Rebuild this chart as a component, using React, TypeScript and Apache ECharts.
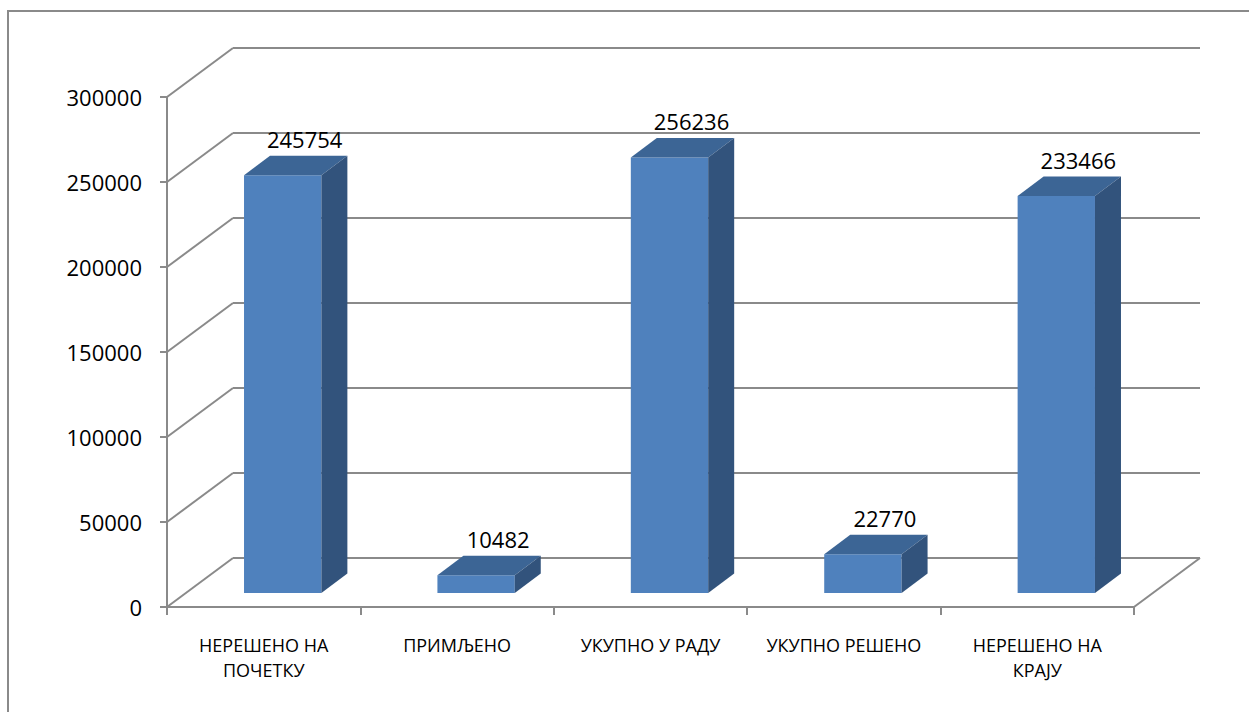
import React, { useEffect, useRef } from "react";
import * as echarts from "echarts";

const categories: string[] = [
  "НЕРЕШЕНО НА\nПОЧЕТКУ",
  "ПРИМЉЕНО",
  "УКУПНО У РАДУ",
  "УКУПНО РЕШЕНО",
  "НЕРЕШЕНО НА\nКРАЈУ",
];
const values: number[] = [245754, 10482, 256236, 22770, 233466];
const yTicks: number[] = [0, 50000, 100000, 150000, 200000, 250000, 300000];

const FONT = "'Open Sans', 'Noto Sans', sans-serif";
const LINE = "#8a8a8a";
const WALL_DX = 66;
const WALL_DY = -49;

export default function App() {
  const ref = useRef<HTMLDivElement>(null);
  useEffect(() => {
    document.body.style.margin = "0";
    if (!ref.current) return;
    const chart = echarts.init(ref.current, undefined, { renderer: "svg" });
    const option: any = {
      animation: false,
      backgroundColor: "#ffffff",
      grid: { left: 167, right: 115, top: 97, bottom: 105 },
      graphic: [
        {
          type: "rect",
          shape: { x: 8, y: 11, width: 1400, height: 900 },
          style: { fill: "none", stroke: LINE, lineWidth: 2 },
          silent: true,
        },
      ],
      xAxis: {
        type: "category",
        data: categories,
        boundaryGap: true,
        axisLine: { show: true, lineStyle: { color: LINE, width: 2 } },
        axisTick: { show: true, length: 8, alignWithLabel: false, lineStyle: { color: LINE, width: 2 } },
        axisLabel: {
          interval: 0,
          margin: 25,
          color: "#000",
          fontFamily: FONT,
          fontSize: 18,
          lineHeight: 25,
          verticalAlign: "top",
        },
        splitLine: { show: false },
      },
      yAxis: {
        type: "value",
        min: 0,
        max: 300000,
        interval: 50000,
        axisLine: { show: true, lineStyle: { color: LINE, width: 2 } },
        axisTick: { show: true, length: 7, lineStyle: { color: LINE, width: 2 } },
        axisLabel: {
          margin: 25,
          color: "#000",
          fontFamily: FONT,
          fontSize: 22,
          formatter: (v: number) => String(v),
        },
        splitLine: { show: false },
      },
      series: [
        {
          type: "custom",
          z: 1,
          silent: true,
          clip: false,
          data: yTicks.map((v) => [0, v]),
          encode: { x: 0, y: 1 },
          renderItem: (params: any, api: any) => {
            const v = api.value(1);
            const p = api.coord([0, v]);
            const band = api.size([1, 0])[0];
            const left = p[0] - band / 2;
            const right = left + band * categories.length;
            const y = p[1];
            const style = { stroke: LINE, lineWidth: 2, fill: "none" };
            const children: any[] = [
              { type: "line", shape: { x1: left, y1: y, x2: left + WALL_DX, y2: y + WALL_DY }, style },
              {
                type: "line",
                shape: { x1: left + WALL_DX, y1: y + WALL_DY, x2: right + WALL_DX, y2: y + WALL_DY },
                style,
              },
            ];
            if (v === 0) {
              children.push({
                type: "line",
                shape: { x1: right, y1: y, x2: right + WALL_DX, y2: y + WALL_DY },
                style,
              });
            }
            return { type: "group", children };
          },
        },
        {
          type: "custom",
          z: 5,
          clip: false,
          data: values.map((v, i) => [i, v]),
          encode: { x: 0, y: 1 },
          renderItem: (params: any, api: any) => {
            const idx = api.value(0);
            const v = api.value(1);
            const base = api.coord([idx, 0]);
            const top = api.coord([idx, v]);
            const band = api.size([1, 0])[0];
            const w = band / 2.5;
            const offX = 19;
            const offY = -14;
            const dx = 26;
            const dy = -19.5;
            const fx = base[0] - w / 2 + offX;
            const fy0 = base[1] + offY;
            const fy1 = top[1] + offY;
            return {
              type: "group",
              children: [
                {
                  type: "polygon",
                  shape: { points: [[fx, fy0], [fx + w, fy0], [fx + w, fy1], [fx, fy1]] },
                  style: { fill: "#4F81BD" },
                },
                {
                  type: "polygon",
                  shape: {
                    points: [[fx, fy1], [fx + w, fy1], [fx + w + dx, fy1 + dy], [fx + dx, fy1 + dy]],
                  },
                  style: { fill: "#3C6595" },
                },
                {
                  type: "polygon",
                  shape: {
                    points: [[fx + w, fy0], [fx + w + dx, fy0 + dy], [fx + w + dx, fy1 + dy], [fx + w, fy1]],
                  },
                  style: { fill: "#32537C" },
                },
                {
                  type: "text",
                  x: base[0] + 41,
                  y: fy1 + dy - 17,
                  style: {
                    text: String(v),
                    fill: "#000",
                    font: `22px ${FONT}`,
                    align: "center",
                    verticalAlign: "middle",
                  },
                },
              ],
            };
          },
        },
      ],
    };
    chart.setOption(option);
    return () => chart.dispose();
  }, []);
  return <div ref={ref} style={{ width: 1249, height: 712 }} />;
}
